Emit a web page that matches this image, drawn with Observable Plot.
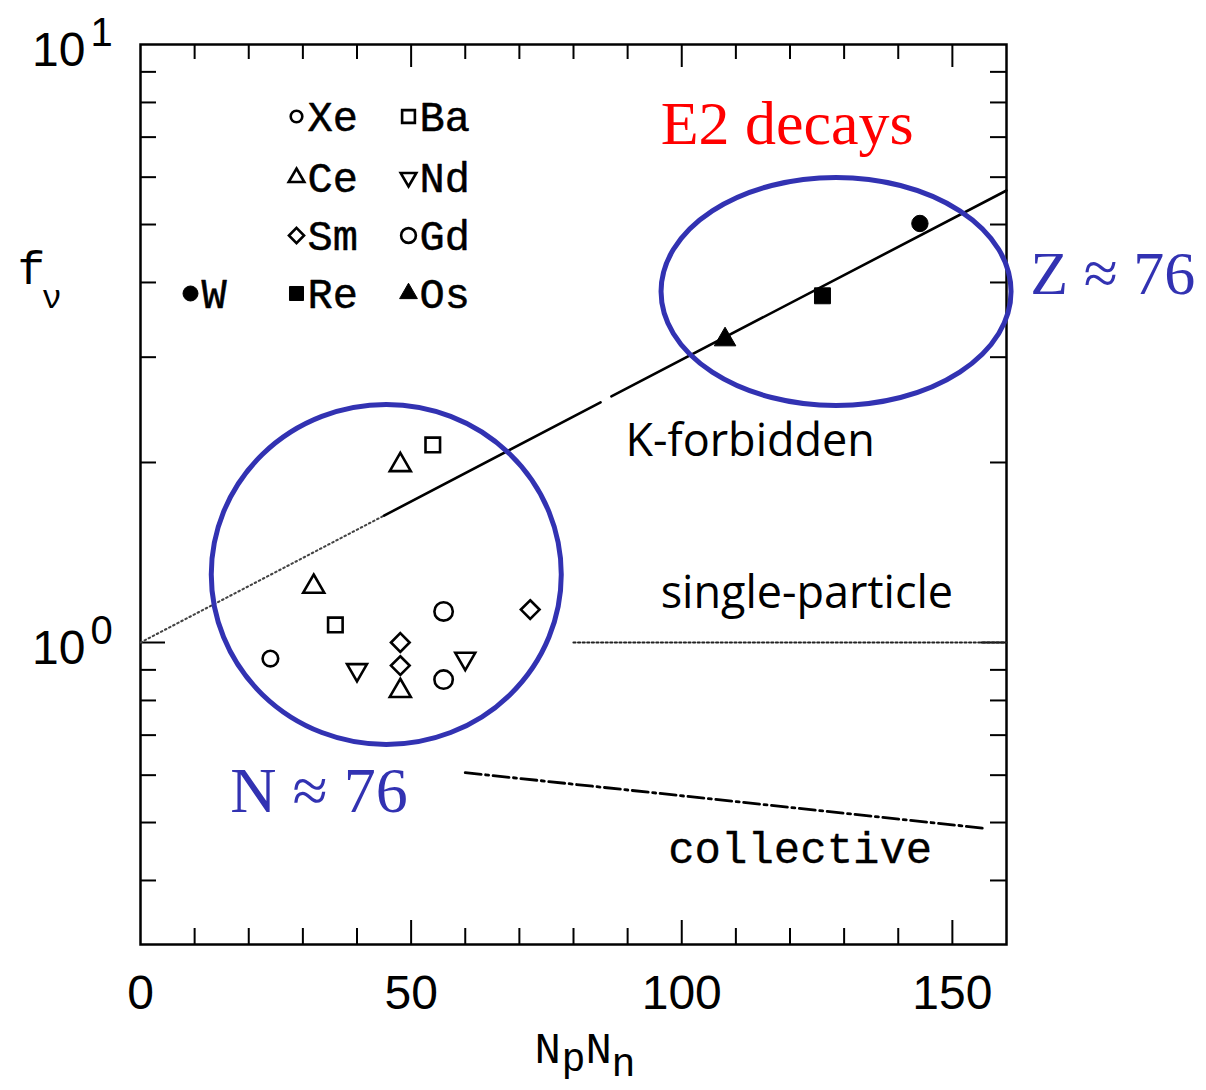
<!DOCTYPE html>
<html>
<head>
<meta charset="utf-8">
<script src="https://cdn.jsdelivr.net/npm/d3@7"></script>
<script src="https://cdn.jsdelivr.net/npm/@observablehq/plot@0.6"></script>
<style>
  html, body { margin: 0; padding: 0; background: #fff; }
  #chart svg { display: block; }
</style>
</head>
<body>
<div id="chart"></div>
<script>
// ---------------- data ----------------
const element = ["Xe","Ce","Ce","Ce","Ba","Ba","Nd","Nd","Sm","Sm","Sm","Gd","Gd","Os","Re","W"];
const npnn    = [24, 32, 48, 48, 36, 54, 40, 60, 48, 48, 72, 56, 56, 108, 126, 144];
const fnu     = [0.94, 1.24, 1.98, 0.83, 1.07, 2.14, 0.90, 0.94, 1.00, 0.915, 1.135, 1.127, 0.867, 3.21, 3.80, 5.02];

const legendNames = ["Xe","Ba","Ce","Nd","Sm","Gd","W","Re","Os"];

const xTickLabels = [0, 50, 100, 150];
const xMajorTicks = [50, 100, 150];
const xMinorTicks = [10, 20, 30, 40, 60, 70, 80, 90, 110, 120, 130, 140];
const yMajorTicks = [1];
const yMinorTicks = [0.4, 0.5, 0.6, 0.7, 0.8, 0.9, 2, 3, 4, 5, 6, 7, 8, 9];
const yTickExponents = [0, 1];

// systematics lines (NpNn, f_nu)
const kForbiddenDotted = [{npnn: 0, fnu: 1.0}, {npnn: 45, fnu: 1.63}];
const kForbiddenSolidA = [{npnn: 45, fnu: 1.63}, {npnn: 85, fnu: 2.52}];
const kForbiddenSolidB = [{npnn: 87, fnu: 2.58}, {npnn: 160, fnu: 5.70}];
const singleParticle   = [{npnn: 80, fnu: 1.0}, {npnn: 160, fnu: 1.0}];
const collective       = [{npnn: 60, fnu: 0.606}, {npnn: 156, fnu: 0.489}];

// highlighted groups (centres)
const clusters = [
  {label: "N ≈ 76", npnn: 45.5, fnu: 1.297},
  {label: "Z ≈ 76", npnn: 128.6, fnu: 3.856}
];

const points = element.map((e, i) => ({element: e, npnn: npnn[i], fnu: fnu[i]}));

// ---------------- layout / style ----------------
const W = 1206, H = 1090, ML = 140, MR = 200, MT = 44, MB = 146;
const PW = W - ML - MR, PH = H - MT - MB;
const BLUE = "#3232b2";
const MONO = "Liberation Mono";
const SANS = "Liberation Sans";

const triangleDown = {
  draw(ctx, size) {
    const y = Math.sqrt(size / (Math.sqrt(3) * 3));
    ctx.moveTo(0, 2 * y);
    ctx.lineTo(Math.sqrt(3) * y, -y);
    ctx.lineTo(-Math.sqrt(3) * y, -y);
    ctx.closePath();
  }
};

const symStyle = {
  Xe: {symbol: "circle",   filled: false, r: 7.8, lr: 5.8},
  Ba: {symbol: "square",   filled: false, r: 8.2, lr: 7.2},
  Ce: {symbol: "triangle", filled: false, r: 7.8, lr: 5.8},
  Nd: {symbol: triangleDown, filled: false, r: 7.4, lr: 5.8},
  Sm: {symbol: "diamond2", filled: false, r: 8.4, lr: 6.8},
  Gd: {symbol: "circle",   filled: false, r: 9.2, lr: 7.4},
  W:  {symbol: "circle",   filled: true,  r: 8.2, lr: 7.5},
  Re: {symbol: "square",   filled: true,  r: 9.0, lr: 7.9},
  Os: {symbol: "triangle", filled: true,  r: 8.0, lr: 6.6}
};

const dotStyle = (s, r) => s.filled
  ? {symbol: s.symbol, r, fill: "black", stroke: "black", strokeWidth: 1}
  : {symbol: s.symbol, r, fill: "none", stroke: "black", strokeWidth: 2.6};

// legend grid (column, row) and pixel offsets from the frame's top-left
const legendCell = {Xe:[1,0], Ba:[2,0], Ce:[1,1], Nd:[2,1], Sm:[1,2], Gd:[2,2], W:[0,3], Re:[1,3], Os:[2,3]};
const legendColX = [50, 156, 268];
const legendRowY = [72, 133, 191, 249];

const marks = [];

// frame & inward ticks
marks.push(Plot.frame({stroke: "black", strokeWidth: 2.5}));
const tickStyle = {stroke: "black", strokeWidth: 2};
marks.push(Plot.ruleX(xMinorTicks, {x: d => d, insetTop: PH - 16, ...tickStyle}));
marks.push(Plot.ruleX(xMajorTicks, {x: d => d, insetTop: PH - 24, ...tickStyle}));
marks.push(Plot.ruleX(xMinorTicks, {x: d => d, insetBottom: PH - 15, ...tickStyle}));
marks.push(Plot.ruleX(xMajorTicks, {x: d => d, insetBottom: PH - 23, ...tickStyle}));
marks.push(Plot.ruleY(yMinorTicks, {y: d => d, insetRight: PW - 16, ...tickStyle}));
marks.push(Plot.ruleY(yMajorTicks, {y: d => d, insetRight: PW - 25, ...tickStyle}));
marks.push(Plot.ruleY(yMinorTicks, {y: d => d, insetLeft: PW - 16, ...tickStyle}));
marks.push(Plot.ruleY(yMajorTicks, {y: d => d, insetLeft: PW - 25, ...tickStyle}));

// tick labels
marks.push(Plot.text(xTickLabels, {x: d => d, text: d => String(d), frameAnchor: "bottom", dy: 64,
  lineAnchor: "bottom", fontFamily: SANS, fontSize: 48, fill: "black", ariaLabel: "xtick-label"}));
marks.push(Plot.text(yTickExponents, {y: e => 10 ** e, text: () => "10", frameAnchor: "left", dx: -55, dy: 21,
  textAnchor: "end", lineAnchor: "bottom", fontFamily: SANS, fontSize: 48, fill: "black", ariaLabel: "ytick-base"}));
marks.push(Plot.text(yTickExponents, {y: e => 10 ** e, text: e => String(e), frameAnchor: "left", dx: -50, dy: 1,
  textAnchor: "start", lineAnchor: "bottom", fontFamily: SANS, fontSize: 40, fill: "black", ariaLabel: "ytick-exp"}));

// axis titles
marks.push(Plot.text(["f"], {text: d => d, frameAnchor: "top-left", dx: -123, dy: 239, textAnchor: "start",
  lineAnchor: "bottom", fontFamily: MONO, fontSize: 46, fill: "black", ariaLabel: "ytitle-f"}));
marks.push(Plot.text(["ν"], {text: d => d, frameAnchor: "top-left", dx: -99, dy: 263, textAnchor: "start",
  lineAnchor: "bottom", fontFamily: MONO, fontSize: 34, fill: "black", ariaLabel: "ytitle-nu"}));
const xTitle = [["N", 394, 118, 44], ["p", 421, 126, 40], ["N", 445, 118, 44], ["n", 471, 131, 40]];
for (const [t, dx, dy, fs] of xTitle) {
  marks.push(Plot.text([t], {text: d => d, frameAnchor: "bottom-left", dx, dy, textAnchor: "start",
    lineAnchor: "bottom", fontFamily: MONO, fontSize: fs, fill: "black"}));
}

// systematics lines
marks.push(Plot.line(kForbiddenDotted, {x: "npnn", y: "fnu", stroke: "#444", strokeWidth: 2, strokeDasharray: "1.6,3"}));
marks.push(Plot.line(kForbiddenSolidA, {x: "npnn", y: "fnu", stroke: "black", strokeWidth: 2.6}));
marks.push(Plot.line(kForbiddenSolidB, {x: "npnn", y: "fnu", stroke: "black", strokeWidth: 2.6}));
marks.push(Plot.line(singleParticle, {x: "npnn", y: "fnu", stroke: "#222", strokeWidth: 2.2, strokeDasharray: "2,2.6"}));
marks.push(Plot.line(collective, {x: "npnn", y: "fnu", stroke: "black", strokeWidth: 2.8, strokeDasharray: "16,4.5,3,4.5"}));

// data points
for (const name of legendNames) {
  const s = symStyle[name];
  marks.push(Plot.dot(points.filter(p => p.element === name), {x: "npnn", y: "fnu", ...dotStyle(s, s.r)}));
}

// highlight ellipses
const ellipseRadii = {"N ≈ 76": [175, 170], "Z ≈ 76": [175, 114]};
for (const c of clusters) {
  const [rx, ry] = ellipseRadii[c.label];
  marks.push((index, scales) => {
    const e = document.createElementNS("http://www.w3.org/2000/svg", "ellipse");
    e.setAttribute("cx", scales.x(c.npnn));
    e.setAttribute("cy", scales.y(c.fnu));
    e.setAttribute("rx", rx);
    e.setAttribute("ry", ry);
    e.setAttribute("fill", "none");
    e.setAttribute("stroke", BLUE);
    e.setAttribute("stroke-width", 5);
    return e;
  });
}

// legend
for (const name of legendNames) {
  const s = symStyle[name];
  const [c, r] = legendCell[name];
  marks.push(Plot.dot([name], {frameAnchor: "top-left", dx: legendColX[c], dy: legendRowY[r], ...dotStyle(s, s.lr)}));
  marks.push(Plot.text([name], {text: d => d, frameAnchor: "top-left", dx: legendColX[c] + 11, dy: legendRowY[r] + 14,
    textAnchor: "start", lineAnchor: "bottom", fontFamily: MONO, fontSize: 42, fill: "black",
    stroke: "black", strokeWidth: 0.5, ariaLabel: "legend-text"}));
}

// annotations
const note = (t, x, y, o) => Plot.text([t], {x: [x], y: [y], text: d => d, textAnchor: "start", lineAnchor: "bottom",
  ariaLabel: "note", ...o});
marks.push(note("E2 decays", 96.1, 6.83, {fontFamily: "Liberation Serif", fontSize: 62, fill: "#ff0000"}));
marks.push(note("Z ≈ 76", 164.4, 3.83, {fontFamily: "Liberation Serif", fontSize: 62, fill: BLUE}));
marks.push(note("N ≈ 76", 16.6, 0.520, {fontFamily: "Liberation Serif", fontSize: 64, fill: BLUE}));
marks.push(note("K-forbidden", 89.6, 2.054, {fontFamily: "Open Sans", fontSize: 45, fill: "black"}));
marks.push(note("single-particle", 96.1, 1.144, {fontFamily: "Open Sans", fontSize: 45, fill: "black"}));
marks.push(note("collective", 97.5, 0.4286, {fontFamily: MONO, fontSize: 44, fill: "black",
  stroke: "black", strokeWidth: 0.3}));

const chart = Plot.plot({
  width: W, height: H,
  marginLeft: ML, marginRight: MR, marginTop: MT, marginBottom: MB,
  style: {background: "white", fontFamily: MONO, overflow: "visible"},
  x: {domain: [0, 160], axis: null},
  y: {type: "log", domain: [0.3126, 10], axis: null},
  marks
});
document.getElementById("chart").append(chart);

// width fitting of text to match the condensed glyphs of the original
function fit(label, target) {
  chart.querySelectorAll(`g[aria-label="${label}"] text`).forEach(t => {
    const w = t.getComputedTextLength();
    const tw = typeof target === "function" ? target(w, t) : target;
    t.setAttribute("textLength", tw);
    t.setAttribute("lengthAdjust", "spacingAndGlyphs");
  });
}
fit("xtick-label", w => w * 0.78);
fit("ytick-base", w => w * 0.82);
fit("ytick-exp", w => w * 0.82);
fit("ytitle-f", w => w * 0.72);
fit("ytitle-nu", w => w * 0.9);
fit("legend-text", (w, t) => t.textContent.length * 27);
const noteWidths = {"E2 decays": 260, "Z ≈ 76": 167, "N ≈ 76": 175, "K-forbidden": 250, "single-particle": 302, "collective": 240};
fit("note", (w, t) => noteWidths[t.textContent] ?? w);
</script>
</body>
</html>
